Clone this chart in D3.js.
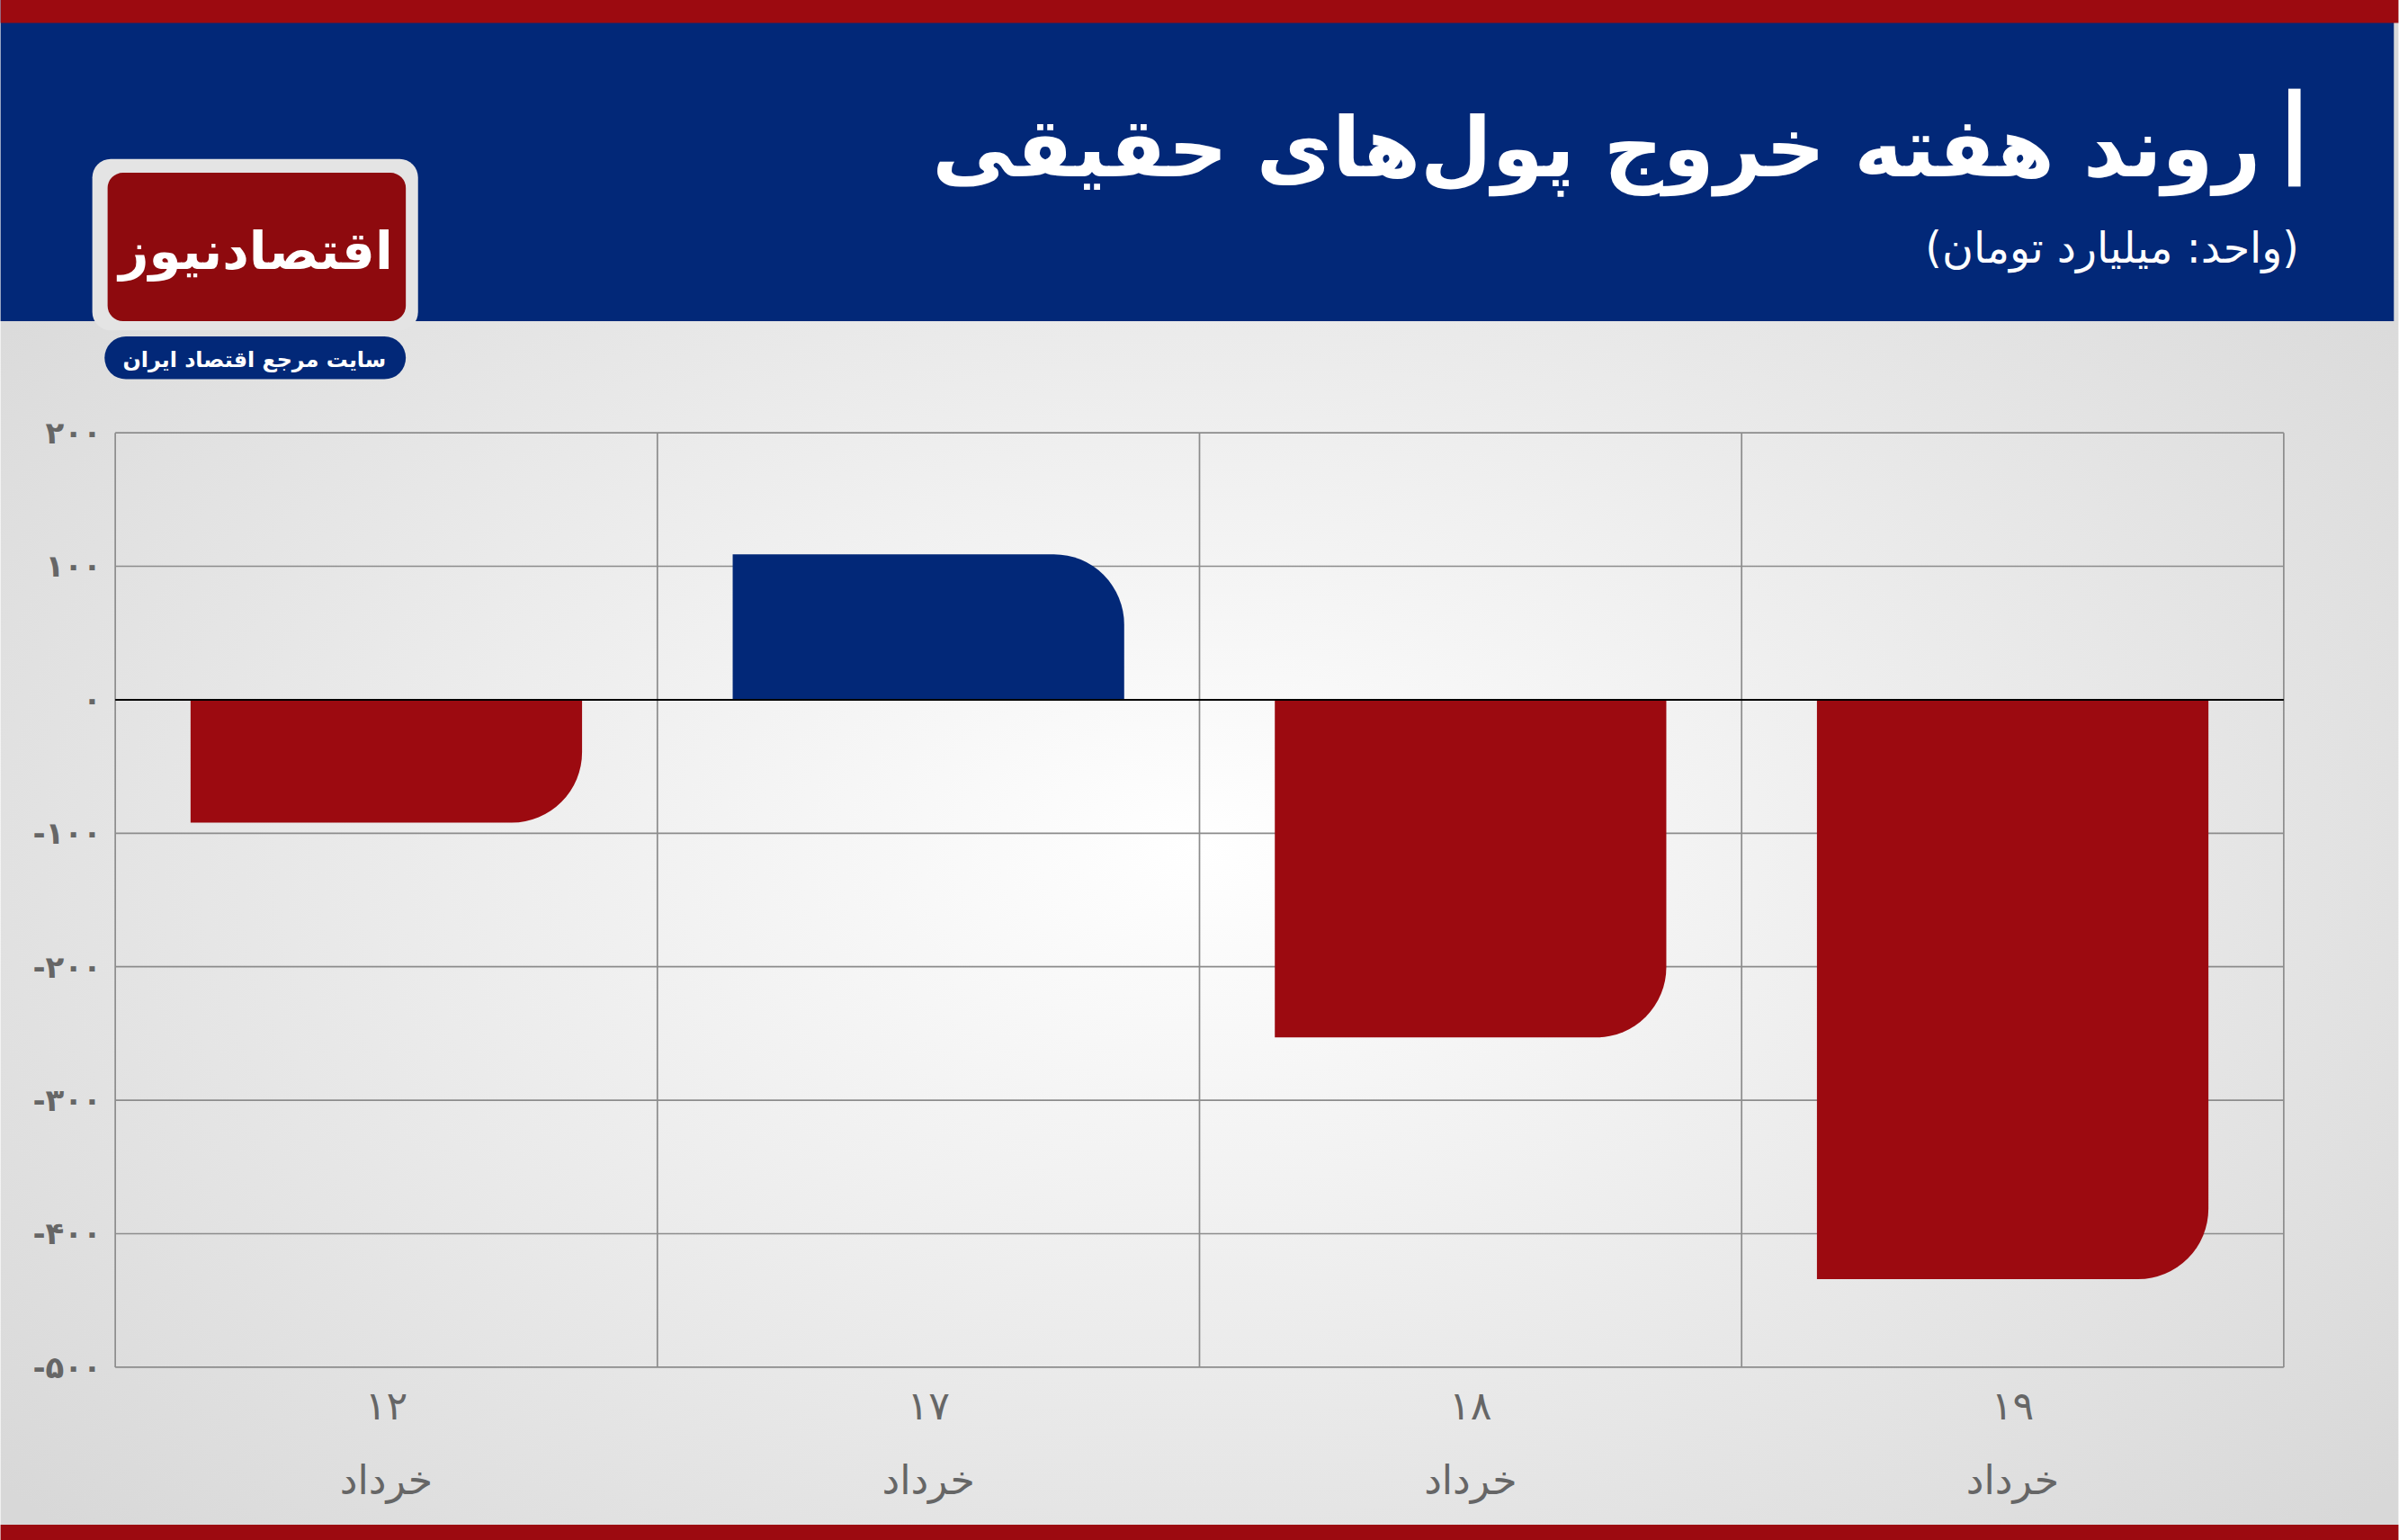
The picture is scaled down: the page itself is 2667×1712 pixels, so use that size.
<!DOCTYPE html>
<html lang="fa">
<head>
<meta charset="UTF-8">
<title>روند هفته خروج پول‌های حقیقی</title>
<script src="https://d3js.org/d3.v7.min.js"></script>
<style>
  body { margin: 0; background: #fff; }
  svg { display: block; font-family: "DejaVu Sans", "Noto Sans", sans-serif; }
</style>
</head>
<body>
<svg id="chart" width="2667" height="1712" viewBox="0 0 1568 1007"></svg>
<script>
(function () {
// داده‌ها
const days = ["۱۲", "۱۷", "۱۸", "۱۹"];
const dayLabel = "خرداد";
const values = [-92, 109, -253, -434];
const yTicks = [200, 100, 0, -100, -200, -300, -400, -500];
const toFa = n => String(n).replace(/\d/g, d => "۰۱۲۳۴۵۶۷۸۹"[d]);

const svg = d3.select("#chart");
const W = 1568, H = 1007;
const defs = svg.append("defs");
const bg = defs.append("radialGradient").attr("id", "bg").attr("cx", "50%").attr("cy", "55%").attr("r", "65%");
bg.append("stop").attr("offset", "0%").attr("stop-color", "#ffffff");
bg.append("stop").attr("offset", "100%").attr("stop-color", "#d8d8d8");

svg.append("rect").attr("width", W).attr("height", H).attr("fill", "url(#bg)");
// سربرگ
svg.append("rect").attr("width", W - 3).attr("height", 210).attr("fill", "#022878");
svg.append("rect").attr("width", W).attr("height", 15).attr("fill", "#9c0a10");
svg.append("rect").attr("y", 997).attr("width", W).attr("height", 10).attr("fill", "#9c0a10");

svg.append("text").attr("x", 1478).attr("y", 115).attr("text-anchor", "start").attr("direction", "rtl")
  .attr("fill", "#fff").attr("font-size", 54).attr("font-weight", "bold").text("روند هفته خروج پول‌های حقیقی");
svg.append("rect").attr("x", 1496).attr("y", 58).attr("width", 8).attr("height", 64).attr("fill", "#fff");
svg.append("text").attr("x", 1503).attr("y", 172).attr("text-anchor", "start").attr("direction", "rtl")
  .attr("fill", "#fff").attr("font-size", 28).text("(واحد: میلیارد تومان)");

// لوگو
svg.append("rect").attr("x", 60).attr("y", 104).attr("width", 213).attr("height", 112).attr("rx", 12).attr("fill", "#e4e4e4");
svg.append("rect").attr("x", 70).attr("y", 113).attr("width", 195).attr("height", 97).attr("rx", 10).attr("fill", "#8e0a0e");
svg.append("text").attr("x", 167).attr("y", 176).attr("text-anchor", "middle").attr("fill", "#fff")
  .attr("font-size", 34).attr("font-weight", "bold").text("اقتصادنیوز");
svg.append("rect").attr("x", 68).attr("y", 220).attr("width", 197).attr("height", 28).attr("rx", 14).attr("fill", "#022878");
svg.append("text").attr("x", 166).attr("y", 240).attr("text-anchor", "middle").attr("fill", "#fff")
  .attr("font-size", 14).attr("font-weight", "bold").text("سایت مرجع اقتصاد ایران");

// محورها
const pLeft = 75, pRight = 1493, pTop = 283, pBottom = 894;
const x = d3.scaleBand().domain(days).range([pLeft, pRight]).paddingInner(0).paddingOuter(0);
const y = d3.scaleLinear().domain([-500, 200]).range([pBottom, pTop]);

const g = svg.append("g");
g.selectAll(".gy").data(yTicks).join("line")
  .attr("x1", pLeft).attr("x2", pRight).attr("y1", d => y(d)).attr("y2", d => y(d))
  .attr("stroke", "#8c8c8c").attr("stroke-width", 1);
g.selectAll(".gx").data([...days.map(d => x(d)), pRight]).join("line")
  .attr("x1", d => d).attr("x2", d => d).attr("y1", pTop).attr("y2", pBottom)
  .attr("stroke", "#8c8c8c").attr("stroke-width", 1);

g.selectAll(".yl").data(yTicks).join("text")
  .attr("x", 66).attr("y", d => y(d) + 7).attr("text-anchor", "end")
  .attr("fill", "#666").attr("font-size", 20).attr("font-weight", "bold")
  .text(d => d < 0 ? "-" + toFa(-d) : toFa(d));

// میله‌ها با گوشه گرد
const bw = 256, r = 46;
function barPath(d, i) {
  const cx = x(days[i]) + x.bandwidth() / 2;
  const x0 = cx - bw / 2, x1 = cx + bw / 2;
  const y0 = y(0), y1 = y(d);
  const rr = Math.min(r, Math.abs(y1 - y0));
  if (d >= 0) {
    return `M${x0},${y0}V${y1}H${x1 - rr}A${rr},${rr} 0 0 1 ${x1},${y1 + rr}V${y0}Z`;
  }
  return `M${x0},${y0}V${y1}H${x1 - rr}A${rr},${rr} 0 0 0 ${x1},${y1 - rr}V${y0}Z`;
}
g.selectAll(".bar").data(values).join("path")
  .attr("d", barPath).attr("fill", d => d >= 0 ? "#022878" : "#9c0a10");

g.append("line").attr("x1", pLeft).attr("x2", pRight).attr("y1", y(0)).attr("y2", y(0))
  .attr("stroke", "#000").attr("stroke-width", 1.2);

g.selectAll(".xl").data(days).join("text")
  .attr("x", d => x(d) + x.bandwidth() / 2).attr("y", 928).attr("text-anchor", "middle")
  .attr("fill", "#666").attr("font-size", 26).text(d => d);
g.selectAll(".xl2").data(days).join("text")
  .attr("x", d => x(d) + x.bandwidth() / 2).attr("y", 977).attr("text-anchor", "middle")
  .attr("fill", "#666").attr("font-size", 26).text(dayLabel);
})();
</script>
</body>
</html>
